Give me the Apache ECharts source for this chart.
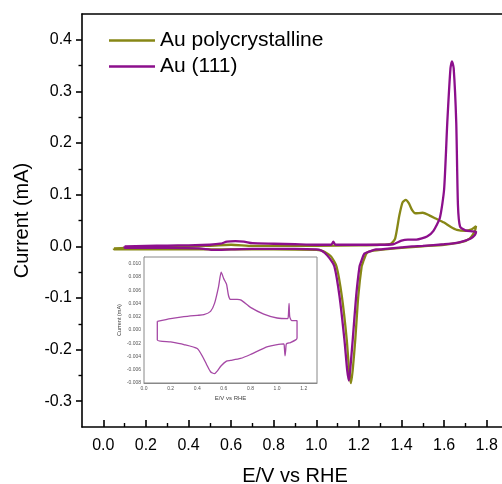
<!DOCTYPE html>
<html>
<head>
<meta charset="utf-8">
<script src="https://cdn.jsdelivr.net/npm/echarts@6/dist/echarts.min.js"></script>
<style>
html, body { margin: 0; padding: 0; overflow: hidden; background: #fff; }
#chart { width: 520px; height: 484px; }
</style>
</head>
<body>
<div id="chart"></div>
<script>
// ---- data ----
const seriesNames = ['Au polycrystalline', 'Au (111)'];

const polyE = [0.05,0.10,0.20,0.40,0.60,0.70,0.90,1.00,1.20,1.30,1.35,1.37,1.39,1.405,1.42,1.435,1.45,1.465,1.50,1.53,1.56,1.60,1.63,1.66,1.70,1.73,1.75,
  1.745,1.72,1.68,1.60,1.50,1.40,1.30,1.25,1.235,1.22,1.213,1.197,1.183,1.172,1.163,1.155,1.143,1.12,1.095,1.07,1.04,1.02,1.00,0.80,0.50,0.20,0.05,0.05];
const polyI = [-0.004,-0.003,-0.002,-0.001,0.003,0.001,0.001,0.001,0.002,0.003,0.005,0.015,0.060,0.085,0.090,0.083,0.070,0.064,0.065,0.060,0.054,0.046,0.038,0.032,0.030,0.033,0.039,
  0.030,0.015,0.008,0.003,0.000,-0.003,-0.007,-0.010,-0.014,-0.030,-0.039,-0.097,-0.181,-0.235,-0.265,-0.245,-0.181,-0.097,-0.039,-0.020,-0.011,-0.008,-0.007,-0.006,-0.006,-0.006,-0.006,-0.004];

const au111E = [0.10,0.20,0.30,0.40,0.50,0.55,0.58,0.62,0.66,0.70,0.80,0.90,1.00,1.07,1.08,1.09,1.20,1.30,1.36,1.40,1.43,1.47,1.52,1.55,1.58,1.60,1.615,1.63,1.637,1.645,1.657,1.665,1.675,1.70,1.73,1.75,
  1.745,1.735,1.72,1.70,1.65,1.60,1.50,1.45,1.40,1.35,1.30,1.28,1.25,1.226,1.21,1.203,1.187,1.171,1.16,1.153,1.145,1.132,1.109,1.085,1.062,1.04,1.023,1.00,0.90,0.80,0.70,0.60,0.52,0.45,0.30,0.20,0.10,0.10];
const au111I = [0.000,0.001,0.0015,0.002,0.003,0.005,0.009,0.010,0.009,0.006,0.005,0.004,0.003,0.003,0.009,0.003,0.003,0.003,0.004,0.011,0.013,0.013,0.019,0.030,0.055,0.110,0.240,0.345,0.358,0.345,0.240,0.080,0.038,0.031,0.029,0.028,
  0.022,0.018,0.014,0.011,0.006,0.004,0.001,0.000,-0.002,-0.004,-0.006,-0.006,-0.010,-0.014,-0.030,-0.039,-0.097,-0.181,-0.235,-0.260,-0.240,-0.181,-0.097,-0.039,-0.023,-0.013,-0.008,-0.006,-0.005,-0.005,-0.005,-0.006,-0.007,-0.004,-0.003,-0.003,-0.003,0.000];

const insetE = [0.10,0.20,0.30,0.40,0.45,0.50,0.53,0.56,0.58,0.60,0.62,0.635,0.65,0.70,0.73,0.80,0.90,1.00,1.08,1.085,1.09,1.095,1.11,1.15,
  1.15,1.14,1.10,1.07,1.065,1.06,1.055,1.05,0.93,0.80,0.725,0.65,0.62,0.58,0.55,0.53,0.50,0.47,0.44,0.40,0.30,0.20,0.10,0.10];
const insetI = [0.0013,0.0017,0.0020,0.0022,0.0023,0.0028,0.0040,0.0065,0.0087,0.0077,0.0069,0.0052,0.0046,0.0046,0.0045,0.0034,0.0024,0.0018,0.0017,0.0022,0.0040,0.0020,0.0014,0.0014,
  -0.0012,-0.0015,-0.0019,-0.0021,-0.0030,-0.0039,-0.0027,-0.0021,-0.0025,-0.0037,-0.0043,-0.0046,-0.0047,-0.0054,-0.0062,-0.0066,-0.0063,-0.0052,-0.0040,-0.0028,-0.0022,-0.0018,-0.0015,0.0013];

const xMajorTicks = [0.0,0.2,0.4,0.6,0.8,1.0,1.2,1.4,1.6,1.8];
const xMinorTicks = [0.1,0.3,0.5,0.7,0.9,1.1,1.3,1.5,1.7];
const yMajorTicks = [-0.3,-0.2,-0.1,0.0,0.1,0.2,0.3,0.4];
const yMinorTicks = [-0.25,-0.15,-0.05,0.05,0.15,0.25,0.35];
const insetXTicks = [0.0,0.2,0.4,0.6,0.8,1.0,1.2];
const insetXMinor = [0.1,0.3,0.5,0.7,0.9,1.1];
const insetYTicks = [-0.008,-0.006,-0.004,-0.002,0.000,0.002,0.004,0.006,0.008,0.010];

// ---- build ----
const zip = (a, b) => a.map((v, i) => [v, b[i]]);
const FONT = 'Liberation Sans, Arial, sans-serif';
const colPoly = '#878716';
const colAu = '#8c0f8c';

const chart = echarts.init(document.getElementById('chart'), null, { renderer: 'canvas' });

const option = {
  animation: false,
  backgroundColor: '#fff',
  textStyle: { fontFamily: FONT },
  legend: {
    data: seriesNames.map(n => ({ name: n, icon: 'rect' })),
    orient: 'vertical',
    left: 109, top: 30,
    itemWidth: 46, itemHeight: 2.5, itemGap: 5,
    padding: 0,
    textStyle: { fontSize: 21, color: '#000', fontFamily: FONT, lineHeight: 20 }
  },
  grid: [
    { left: 82, top: 14, width: 426, height: 413, containLabel: false, outerBoundsMode: 'none' },
    { left: 144, top: 257, width: 173, height: 126, show: true, backgroundColor: '#fff',
      borderColor: '#888', borderWidth: 1, z: 5, containLabel: false, outerBoundsMode: 'none' }
  ],
  xAxis: [
    { gridIndex: 0, type: 'value', position: 'bottom', min: -0.1, max: 1.9, interval: 0.1,
      axisLine: { show: true, onZero: false, lineStyle: { color: '#000', width: 1.6 } },
      axisTick: { show: true, inside: true, length: 7, customValues: xMajorTicks, lineStyle: { color: '#000', width: 1.6 } },
      axisLabel: { customValues: xMajorTicks, formatter: v => v.toFixed(1), fontSize: 16, color: '#000', margin: 11, fontFamily: FONT },
      splitLine: { show: false },
      name: 'E/V vs RHE', nameLocation: 'middle', nameGap: 39,
      nameTextStyle: { fontSize: 20, color: '#000', fontFamily: FONT } },
    { gridIndex: 0, type: 'value', position: 'bottom', min: -0.1, max: 1.9, interval: 0.1,
      axisLine: { show: false, onZero: false },
      axisTick: { show: true, inside: true, length: 4, customValues: xMinorTicks, lineStyle: { color: '#000', width: 1.4 } },
      axisLabel: { show: false }, splitLine: { show: false } },
    { gridIndex: 0, type: 'value', position: 'top', min: -0.1, max: 1.9, interval: 0.1,
      axisLine: { show: true, onZero: false, lineStyle: { color: '#000', width: 1.6 } },
      axisTick: { show: false }, axisLabel: { show: false }, splitLine: { show: false } },
    { gridIndex: 1, type: 'value', position: 'bottom', min: 0, max: 1.3, interval: 0.1,
      axisLine: { show: true, onZero: false, lineStyle: { color: '#888', width: 1 } },
      axisTick: { show: true, inside: true, length: 2.5, customValues: insetXTicks, lineStyle: { color: '#888', width: 0.8 } },
      axisLabel: { customValues: insetXTicks, formatter: v => v.toFixed(1), fontSize: 5, color: '#555', margin: 3, fontFamily: FONT },
      splitLine: { show: false },
      name: 'E/V vs RHE', nameLocation: 'middle', nameGap: 12,
      nameTextStyle: { fontSize: 6, color: '#444', fontFamily: FONT } },
    { gridIndex: 1, type: 'value', position: 'bottom', min: 0, max: 1.3, interval: 0.1,
      axisLine: { show: false, onZero: false },
      axisTick: { show: true, inside: true, length: 1.5, customValues: insetXMinor, lineStyle: { color: '#888', width: 0.8 } },
      axisLabel: { show: false }, splitLine: { show: false } }
  ],
  yAxis: [
    { gridIndex: 0, type: 'value', position: 'left', min: -0.35, max: 0.45, interval: 0.05,
      axisLine: { show: true, onZero: false, lineStyle: { color: '#000', width: 1.6 } },
      axisTick: { show: true, inside: false, length: 6, customValues: yMajorTicks, lineStyle: { color: '#000', width: 1.6 } },
      axisLabel: { customValues: yMajorTicks, formatter: v => v.toFixed(1), fontSize: 16, color: '#000', margin: 10, fontFamily: FONT },
      splitLine: { show: false },
      name: 'Current (mA)', nameLocation: 'middle', nameGap: 50, nameRotate: 90,
      nameTextStyle: { fontSize: 20, color: '#000', fontFamily: FONT } },
    { gridIndex: 0, type: 'value', position: 'left', min: -0.35, max: 0.45, interval: 0.05,
      axisLine: { show: false, onZero: false },
      axisTick: { show: true, inside: false, length: 3.5, customValues: yMinorTicks, lineStyle: { color: '#000', width: 1.4 } },
      axisLabel: { show: false }, splitLine: { show: false } },
    { gridIndex: 1, type: 'value', position: 'left', min: -0.008, max: 0.011, interval: 0.001,
      axisLine: { show: true, onZero: false, lineStyle: { color: '#888', width: 1 } },
      axisTick: { show: true, inside: true, length: 2.5, customValues: insetYTicks, lineStyle: { color: '#888', width: 0.8 } },
      axisLabel: { customValues: insetYTicks, formatter: v => v.toFixed(3), fontSize: 5, color: '#555', margin: 3, fontFamily: FONT },
      splitLine: { show: false },
      name: 'Current (mA)', nameLocation: 'middle', nameGap: 22, nameRotate: 90,
      nameTextStyle: { fontSize: 5.5, color: '#444', fontFamily: FONT } }
  ],
  series: [
    { name: seriesNames[0], type: 'line', xAxisIndex: 0, yAxisIndex: 0, data: zip(polyE, polyI),
      symbol: 'none', smooth: 0.2, lineStyle: { color: colPoly, width: 2.3 }, itemStyle: { color: colPoly }, z: 2 },
    { name: seriesNames[1], type: 'line', xAxisIndex: 0, yAxisIndex: 0, data: zip(au111E, au111I),
      symbol: 'none', smooth: 0.2, lineStyle: { color: colAu, width: 2.3 }, itemStyle: { color: colAu }, z: 3 },
    { name: 'inset', type: 'line', xAxisIndex: 3, yAxisIndex: 2, data: zip(insetE, insetI),
      symbol: 'none', smooth: 0.2, lineStyle: { color: '#a548a5', width: 1.3 }, itemStyle: { color: '#a548a5' }, z: 6 }
  ]
};
chart.setOption(option);
</script>
</body>
</html>
